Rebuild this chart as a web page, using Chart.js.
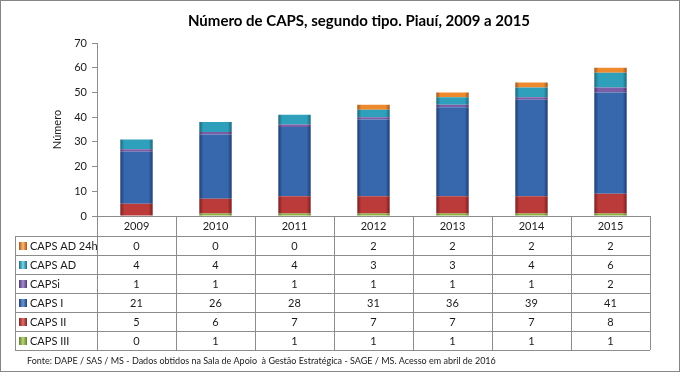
<!DOCTYPE html>
<html>
<head>
<meta charset="utf-8">
<script src="https://cdn.jsdelivr.net/npm/chart.js@4.4.0/dist/chart.umd.min.js"></script>
<style>
  body { margin: 0; background: #fff; }
  #wrap { width: 680px; height: 373px; position: relative; }
</style>
</head>
<body>
<div id="wrap"><canvas id="capsChart" width="680" height="373"></canvas></div>
<script>
// dados (tabela do gráfico)
const years = ['2009', '2010', '2011', '2012', '2013', '2014', '2015'];
const capsIII = [0, 1, 1, 1, 1, 1, 1];
const capsII = [5, 6, 7, 7, 7, 7, 8];
const capsI = [21, 26, 28, 31, 36, 39, 41];
const capsi = [1, 1, 1, 1, 1, 1, 2];
const capsAD = [4, 4, 4, 3, 3, 4, 6];
const capsAD24h = [0, 0, 0, 2, 2, 2, 2];
const yTicks = [0, 10, 20, 30, 40, 50, 60, 70];

const FONT = 'Lato, "Open Sans", sans-serif';

// cores: [escura, base, clara]
const colors = {
  iii: ['#5f7f2a', '#8fb244', '#b9d77a'],
  ii: ['#7e2222', '#bb3a3a', '#e07070'],
  i: ['#1f3f73', '#3768ad', '#6a98d8'],
  si: ['#4e3873', '#7c5ea6', '#a98cd0'],
  ad: ['#1b6b80', '#2fa0bb', '#7ad6ea'],
  ad24: ['#a8551a', '#ee8a2e', '#f9bb70']
};

function barGrad(c) {
  return function(context) {
    const chart = context.chart;
    if (!chart.chartArea || !chart.scales.x) return c[1];
    const x = chart.scales.x.getPixelForValue(context.dataIndex);
    const half = 16;
    const g = chart.ctx.createLinearGradient(x - half, 0, x + half, 0);
    g.addColorStop(0, c[0]);
    g.addColorStop(0.12, c[1]);
    g.addColorStop(0.45, c[1]);
    g.addColorStop(0.88, c[1]);
    g.addColorStop(1, c[0]);
    return g;
  };
}

const series = [
  { label: 'CAPS III', data: capsIII, c: colors.iii },
  { label: 'CAPS II', data: capsII, c: colors.ii },
  { label: 'CAPS I', data: capsI, c: colors.i },
  { label: 'CAPSi', data: capsi, c: colors.si },
  { label: 'CAPS AD', data: capsAD, c: colors.ad },
  { label: 'CAPS AD 24h', data: capsAD24h, c: colors.ad24 }
];

// desenha título, tabela de dados, fonte e moldura
const tablePlugin = {
  id: 'dataTable',
  afterDraw(chart) {
    const ctx = chart.ctx;
    const area = chart.chartArea;
    const n = years.length;
    const colW = (area.right - area.left) / n;
    const headTop = area.bottom;
    const headBot = headTop + 20;
    const rowH = 19;
    const labelLeft = 15;
    const rows = series.slice().reverse();
    const tableBot = headBot + rows.length * rowH;

    ctx.save();
    // título
    ctx.fillStyle = '#000';
    ctx.font = 'bold 15px ' + FONT;
    ctx.textAlign = 'center';
    ctx.textBaseline = 'middle';
    ctx.fillText('Número de CAPS, segundo tipo. Piauí, 2009 a 2015', 359, 21);

    // linhas da tabela
    ctx.strokeStyle = '#8c8c8c';
    ctx.lineWidth = 1;
    ctx.beginPath();
    ctx.moveTo(area.left, headTop + 0.5);
    ctx.lineTo(area.right, headTop + 0.5);
    for (let r = 0; r <= rows.length; r++) {
      const y = Math.round(headBot + r * rowH) + 0.5;
      ctx.moveTo(labelLeft, y);
      ctx.lineTo(area.right, y);
    }
    for (let k = 0; k <= n; k++) {
      const x = Math.round(area.left + k * colW) + 0.5;
      ctx.moveTo(x, headTop);
      ctx.lineTo(x, tableBot);
    }
    ctx.moveTo(labelLeft + 0.5, headBot);
    ctx.lineTo(labelLeft + 0.5, tableBot);
    ctx.stroke();

    // anos
    ctx.fillStyle = '#1a1a1a';
    ctx.font = '11px ' + FONT;
    years.forEach((yr, k) => {
      ctx.fillText(yr, area.left + (k + 0.5) * colW, headTop + 10.5);
    });

    // linhas de valores
    rows.forEach((s, r) => {
      const yc = headBot + r * rowH + rowH / 2 + 0.5;
      const sq = ctx.createLinearGradient(19, 0, 27, 0);
      sq.addColorStop(0, s.c[0]);
      sq.addColorStop(0.5, s.c[2]);
      sq.addColorStop(1, s.c[0]);
      ctx.fillStyle = sq;
      ctx.fillRect(19, Math.round(yc) - 4, 8, 8);
      ctx.fillStyle = '#1a1a1a';
      ctx.textAlign = 'left';
      ctx.fillText(s.label, 30, yc);
      ctx.textAlign = 'center';
      s.data.forEach((v, k) => {
        ctx.fillText(String(v), area.left + (k + 0.5) * colW, yc);
      });
    });

    // fonte
    ctx.textAlign = 'left';
    ctx.font = '9px ' + FONT;
    ctx.fillText('Fonte: DAPE / SAS / MS - Dados obtidos na Sala de Apoio  à Gestão Estratégica - SAGE / MS. Acesso em abril de 2016', 27, 361);

    // moldura
    ctx.strokeStyle = '#868686';
    ctx.strokeRect(0.5, 0.5, 679, 371);
    ctx.restore();
  }
};

const chart = new Chart(document.getElementById('capsChart').getContext('2d'), {
  type: 'bar',
  data: {
    labels: years,
    datasets: series.map(s => ({
      label: s.label,
      data: s.data,
      backgroundColor: barGrad(s.c),
      borderColor: s.c[0],
      borderWidth: 0
    }))
  },
  options: {
    responsive: false,
    animation: false,
    devicePixelRatio: 1,
    layout: { padding: { top: 43, left: 51, right: 30, bottom: 157 } },
    plugins: {
      legend: { display: false },
      title: { display: false },
      tooltip: { enabled: false }
    },
    datasets: { bar: { categoryPercentage: 1, barPercentage: 0.41 } },
    scales: {
      x: {
        stacked: true,
        display: false
      },
      y: {
        stacked: true,
        min: 0,
        max: 70,
        afterBuildTicks: axis => { axis.ticks = yTicks.map(v => ({ value: v })); },
        afterFit: axis => { axis.width = 46; },
        grid: { drawOnChartArea: false, drawTicks: true, tickLength: 5, color: '#8c8c8c' },
        border: { color: '#8c8c8c' },
        ticks: { color: '#1a1a1a', padding: 5, font: { family: FONT, size: 11 } },
        title: {
          display: true,
          text: 'Número',
          color: '#1a1a1a',
          padding: { top: 0, bottom: 0 },
          font: { family: FONT, size: 11 }
        }
      }
    }
  },
  plugins: [tablePlugin]
});
</script>
</body>
</html>
